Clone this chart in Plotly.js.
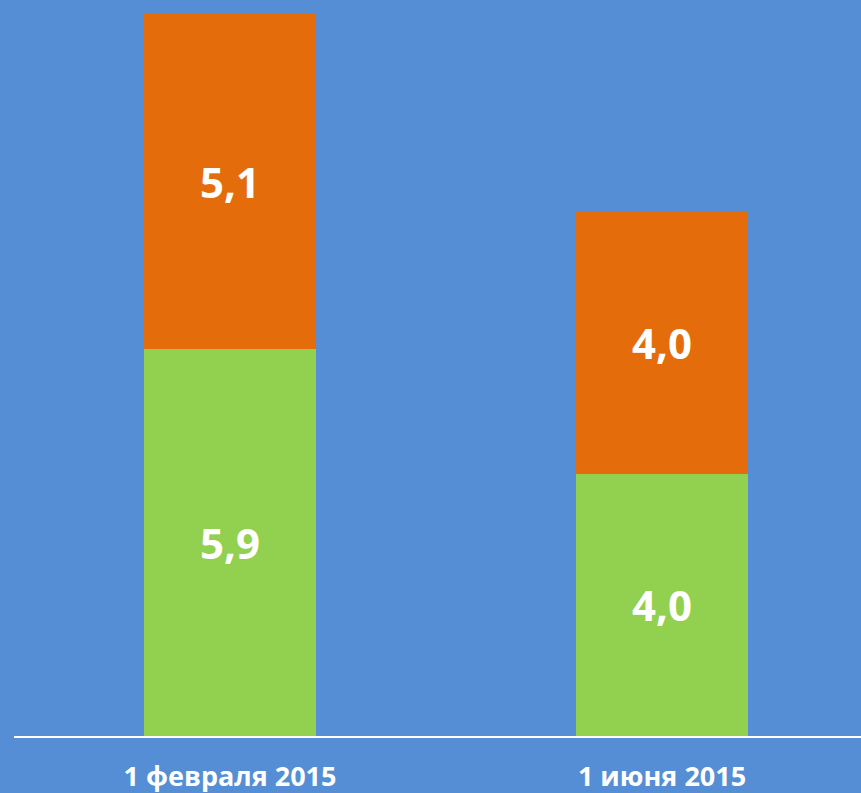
<!DOCTYPE html>
<html>
<head>
<meta charset="utf-8">
<script src="https://cdn.plot.ly/plotly-3.0.1.min.js"></script>
<style>html,body{margin:0;padding:0;background:#558ED5;}#chart{width:861px;height:793px;}</style>
</head>
<body>
<div id="chart"></div>
<script>
const categories = ["1 февраля 2015", "1 июня 2015"];
const greenValues = [5.9, 4.0];
const orangeValues = [5.1, 4.0];

const fmt = v => v.toFixed(1).replace('.', ',');
const labelFont = {family: "Open Sans, sans-serif", size: 42, color: "#ffffff", weight: 700};

const traces = [
  {type: "bar", x: categories, y: greenValues, name: "green",
   marker: {color: "#92D050"}, text: greenValues.map(fmt),
   textposition: "inside", insidetextanchor: "middle", constraintext: "none",
   textfont: labelFont, hoverinfo: "none"},
  {type: "bar", x: categories, y: orangeValues, name: "orange",
   marker: {color: "#E46C0A"}, text: orangeValues.map(fmt),
   textposition: "inside", insidetextanchor: "middle", constraintext: "none",
   textfont: labelFont, hoverinfo: "none"}
];

const layout = {
  width: 861, height: 793,
  barmode: "stack", bargap: 0.602,
  paper_bgcolor: "#558ED5", plot_bgcolor: "#558ED5",
  showlegend: false,
  margin: {l: 14, r: 0, t: 1, b: 57},
  xaxis: {type: "category", range: [-0.5, 1.4606], showline: true, linecolor: "#ffffff", linewidth: 2,
          showgrid: false, zeroline: false, ticks: "", ticklabelstandoff: 16,
          tickfont: {family: "Open Sans, sans-serif", size: 27, color: "#ffffff", weight: 700}},
  yaxis: {range: [0, 11.2], showgrid: false, zeroline: false, showticklabels: false, showline: false, ticks: ""}
};

Plotly.newPlot("chart", traces, layout, {displayModeBar: false, staticPlot: true});
</script>
</body>
</html>
